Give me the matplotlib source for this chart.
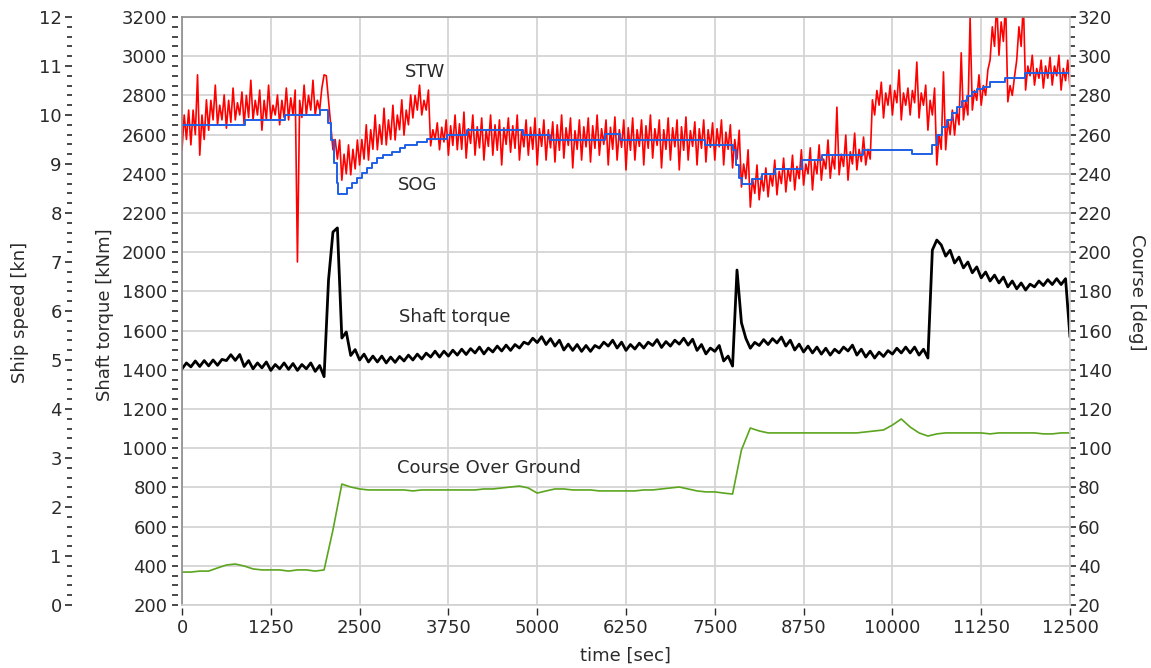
import numpy as np
import matplotlib
matplotlib.use("Agg")
import matplotlib.pyplot as plt
from matplotlib.ticker import MultipleLocator

plt.rcParams['font.family'] = ['DejaVu Sans']

# ---------------- data ----------------
t_bins = np.arange(0, 12501, 125)          # sample bins [sec]

# speed through water [kn], four samples per bin:
# low extreme, upper core, lower core, high extreme
stw_a = [9.29, 9.39, 9.18, 9.69, 9.80, 9.73, 9.90, 9.80, 9.90, 9.69,
         9.90, 9.80, 9.90, 7.00, 10.00, 10.00, 10.82, 9.29, 8.67, 8.78,
         8.98, 9.08, 9.29, 9.39, 9.49, 9.59, 9.94, 10.00, 9.37, 9.29,
         9.18, 9.29, 9.12, 9.18, 9.08, 9.18, 8.98, 9.24, 9.08, 9.18,
         8.98, 9.08, 9.04, 9.12, 8.92, 9.08, 9.04, 9.18, 8.98, 9.08,
         8.88, 9.08, 8.98, 9.12, 8.92, 9.08, 8.88, 9.08, 8.98, 9.04,
         9.08, 8.98, 8.92, 8.53, 8.12, 8.27, 8.33, 8.37, 8.43, 8.47,
         8.57, 8.47, 8.67, 8.71, 8.78, 8.67, 8.88, 8.98, 10.00, 9.94,
         10.00, 9.90, 10.00, 9.94, 9.69, 8.98, 9.29, 9.59, 9.90, 10.10,
         10.20, 11.12, 11.22, 10.27, 11.12, 10.51, 10.61, 10.55, 10.61, 10.51,
         10.55]
stw_c1 = [10.0, 10.1, 10.0, 10.3, 10.2, 10.3, 10.25, 10.4, 10.3, 10.3,
          10.2, 10.3, 10.35, 10.3, 10.4, 10.3, 10.8, 9.5, 9.2, 9.3,
          9.5, 9.7, 9.8, 9.9, 10.0, 10.1, 10.4, 10.3, 9.7, 9.75,
          9.78, 9.82, 9.72, 9.76, 9.70, 9.80, 9.74, 9.78, 9.68, 9.75,
          9.72, 9.70, 9.80, 9.74, 9.68, 9.76, 9.78, 9.72, 9.75, 9.70,
          9.74, 9.70, 9.78, 9.72, 9.70, 9.74, 9.76, 9.68, 9.72, 9.70,
          9.72, 9.65, 9.5, 9.0, 8.7, 8.75, 8.8, 8.85, 8.9, 8.95,
          9.0, 9.05, 9.1, 9.15, 9.2, 9.25, 9.3, 9.3, 10.5, 10.45,
          10.5, 10.45, 10.5, 10.45, 10.3, 9.6, 9.9, 10.1, 10.3, 10.5,
          10.6, 11.8, 11.9, 10.6, 11.8, 11.0, 10.95, 11.0, 11.0, 10.95,
          10.95]
stw_c2 = [9.5, 9.6, 9.5, 9.9, 9.9, 9.85, 10.0, 9.95, 10.0, 9.9,
          10.0, 9.95, 10.0, 9.95, 10.1, 10.1, 10.3, 9.1, 8.8, 8.9,
          9.1, 9.3, 9.4, 9.5, 9.7, 9.8, 10.1, 10.1, 9.5, 9.45,
          9.38, 9.30, 9.42, 9.33, 9.36, 9.28, 9.40, 9.32, 9.35, 9.30,
          9.36, 9.33, 9.28, 9.38, 9.30, 9.35, 9.32, 9.40, 9.30, 9.34,
          9.28, 9.36, 9.32, 9.38, 9.30, 9.35, 9.28, 9.36, 9.32, 9.34,
          9.35, 9.30, 9.1, 8.7, 8.4, 8.45, 8.55, 8.6, 8.65, 8.7,
          8.8, 8.8, 8.9, 8.9, 8.95, 9.0, 9.05, 9.1, 10.2, 10.2,
          10.25, 10.2, 10.25, 10.2, 10.0, 9.3, 9.6, 9.8, 10.0, 10.3,
          10.4, 11.4, 11.5, 10.4, 11.4, 10.8, 10.75, 10.75, 10.8, 10.7,
          10.7]
stw_b = [10.10, 10.82, 10.31, 10.61, 10.41, 10.55, 10.47, 10.71, 10.51, 10.61,
         10.41, 10.55, 10.51, 10.61, 10.71, 10.55, 9.80, 9.49, 9.39, 9.49,
         9.80, 10.00, 10.14, 10.20, 10.31, 10.41, 10.61, 10.51, 9.84, 9.90,
         10.00, 10.06, 10.00, 9.94, 10.00, 9.90, 9.94, 10.00, 9.90, 9.94,
         9.90, 9.86, 10.00, 9.94, 9.90, 9.94, 10.00, 9.90, 9.96, 9.90,
         9.94, 9.90, 10.00, 9.90, 9.94, 9.90, 9.96, 9.86, 9.90, 9.84,
         9.90, 9.80, 9.69, 9.29, 8.98, 8.92, 9.08, 9.12, 9.18, 9.29,
         9.33, 9.39, 9.49, 10.16, 9.59, 9.63, 9.55, 10.31, 10.67, 10.61,
         10.92, 10.55, 11.08, 10.61, 10.55, 10.88, 10.10, 11.27, 11.98, 10.82,
         10.92, 12.30, 12.30, 10.78, 12.30, 11.22, 11.12, 11.18, 11.22, 11.12,
         11.08]

# speed over ground [kn] (stepped signal)
sog_time = [0, 886, 1449, 1940, 2054, 2096, 2139, 2181, 2195, 2322, 2392, 2462,
            2533, 2603, 2673, 2744, 2828, 2955, 3067, 3138, 3307, 3447, 3729,
            4011, 4799, 5178, 5952, 6163, 7359, 7753, 7795, 7837, 7880, 8020,
            8161, 8344, 8723, 9005, 9582, 10271, 10552, 10623, 10693, 10764,
            10834, 10904, 10975, 11045, 11115, 11186, 11270, 11369, 11580,
            11861, 12500]
sog_speed = [9.80, 9.90, 10.00, 10.10, 9.84, 9.49, 9.02, 8.61, 8.39, 8.51, 8.61,
             8.71, 8.82, 8.92, 9.02, 9.12, 9.18, 9.24, 9.33, 9.39, 9.45, 9.51,
             9.59, 9.69, 9.59, 9.49, 9.61, 9.49, 9.39, 9.29, 8.98, 8.71, 8.59,
             8.69, 8.80, 8.90, 9.08, 9.18, 9.29, 9.20, 9.39, 9.59, 9.76, 9.90,
             10.04, 10.16, 10.29, 10.39, 10.47, 10.53, 10.57, 10.67, 10.76,
             10.86, 10.86]

# shaft torque [kNm], two samples per bin
torque_a = [1405, 1415, 1417, 1420, 1423, 1447, 1448, 1417, 1405, 1410,
            1397, 1405, 1402, 1397, 1405, 1392, 1365, 2103, 1562, 1473,
            1450, 1440, 1440, 1435, 1438, 1445, 1450, 1455, 1465, 1465,
            1470, 1475, 1478, 1486, 1481, 1491, 1496, 1499, 1511, 1531,
            1539, 1529, 1521, 1501, 1499, 1494, 1494, 1511, 1521, 1511,
            1499, 1506, 1511, 1524, 1514, 1521, 1531, 1526, 1499, 1481,
            1494, 1445, 1419, 1640, 1510, 1524, 1529, 1537, 1521, 1501,
            1491, 1486, 1480, 1475, 1486, 1496, 1475, 1465, 1460, 1468,
            1480, 1486, 1486, 1475, 1460, 2062, 1980, 1945, 1920, 1895,
            1869, 1853, 1843, 1823, 1813, 1807, 1823, 1830, 1835, 1835,
            1567]
torque_b = [1435, 1445, 1447, 1450, 1453, 1477, 1478, 1447, 1435, 1440,
            1427, 1435, 1432, 1427, 1435, 1422, 1858, 2124, 1593, 1503,
            1480, 1470, 1470, 1465, 1468, 1475, 1480, 1485, 1495, 1495,
            1500, 1505, 1508, 1516, 1511, 1521, 1526, 1529, 1541, 1561,
            1569, 1559, 1551, 1531, 1529, 1524, 1524, 1541, 1551, 1541,
            1529, 1536, 1541, 1554, 1544, 1551, 1561, 1556, 1529, 1511,
            1524, 1470, 1909, 1560, 1540, 1554, 1559, 1567, 1551, 1531,
            1521, 1516, 1510, 1505, 1516, 1526, 1505, 1495, 1490, 1498,
            1510, 1516, 1516, 1505, 2011, 2037, 2010, 1975, 1950, 1925,
            1899, 1883, 1873, 1853, 1843, 1837, 1853, 1860, 1865, 1865,
            1567]

# course over ground [deg]
course = [36.8, 36.8, 37.3, 37.3, 38.9, 40.4, 40.9, 39.9, 38.4, 37.9,
          37.9, 37.9, 37.3, 37.9, 37.9, 37.3, 37.9, 58.3, 81.7, 80.2,
          79.2, 78.7, 78.7, 78.7, 78.7, 78.7, 78.2, 78.7, 78.7, 78.7,
          78.7, 78.7, 78.7, 78.7, 79.2, 79.2, 79.7, 80.2, 80.7, 79.7,
          77.1, 78.2, 79.2, 79.2, 78.7, 78.7, 78.7, 78.2, 78.2, 78.2,
          78.2, 78.2, 78.7, 78.7, 79.2, 79.7, 80.2, 79.2, 78.2, 77.7,
          77.7, 77.1, 76.6, 99.1, 110.3, 108.8, 107.8, 107.8, 107.8, 107.8,
          107.8, 107.8, 107.8, 107.8, 107.8, 107.8, 107.8, 108.3, 108.8, 109.3,
          111.8, 114.9, 110.8, 107.8, 106.2, 107.3, 107.8, 107.8, 107.8, 107.8,
          107.8, 107.3, 107.8, 107.8, 107.8, 107.8, 107.8, 107.3, 107.3, 107.8,
          107.8]

time_ticks = [0, 1250, 2500, 3750, 5000, 6250, 7500, 8750, 10000, 11250, 12500]
time_labels = [str(v) for v in time_ticks]


def samples_per_bin(*series):
    n = len(series)
    step = 125.0 / n
    t = np.empty(n * len(t_bins))
    v = np.empty(n * len(t_bins))
    for k, s in enumerate(series):
        t[k::n] = t_bins + k * step
        v[k::n] = s
    return t, v


# ---------------- figure ----------------
W, H = 1151, 668
fig = plt.figure(figsize=(W / 100, H / 100), dpi=100)
L, R, T, B = 182, 1070, 17, 605
ax = fig.add_axes([L / W, 1 - B / H, (R - L) / W, (B - T) / H])
ax_speed = ax.twinx()
ax_course = ax.twinx()

tick_col = '#2a2a2a'
grid_col = '#d4d4d4'
fs = 13

# --- torque (main) axes
ax.set_xlim(0, 12500)
ax.set_ylim(200, 3200)
ax.set_xticks(time_ticks)
ax.set_xticklabels(time_labels)
ax.yaxis.set_major_locator(MultipleLocator(200))
ax.yaxis.set_minor_locator(MultipleLocator(50))
ax.grid(True, which='major', color=grid_col, lw=1.3)
ax.set_axisbelow(True)
for s in ['top', 'right']:
    ax.spines[s].set_visible(False)
ax.spines['left'].set_position(('outward', 3.0))
ax.spines['left'].set_edgecolor('none')
ax.spines['bottom'].set_position(('outward', 2.2))
ax.spines['bottom'].set_edgecolor('none')
ax.tick_params(axis='y', which='major', direction='out', length=4.4, width=1.2,
               color=tick_col, pad=3.2, labelsize=fs, labelcolor=tick_col)
ax.tick_params(axis='y', which='minor', direction='out', length=4.0, width=1.2,
               color=tick_col)
ax.tick_params(axis='x', which='major', direction='out', length=5.0, width=1.0,
               color=tick_col, pad=3.0, labelsize=fs, labelcolor=tick_col)
ax.set_ylabel('Shaft torque [kNm]', fontsize=fs, color=tick_col)
ax.yaxis.set_label_coords((114 - L) / (R - L), (B - 315) / (B - T))
ax.set_xlabel('time [sec]', fontsize=fs, color=tick_col)
ax.xaxis.set_label_coords((625 - L) / (R - L), (B - 647) / (B - T))

tq_t, tq_v = samples_per_bin(torque_a, torque_b)
ax.plot(tq_t, tq_v, color='black', lw=2.0)

ax.text(3841, 1669, 'Shaft torque', fontsize=fs, color=tick_col,
        ha='center', va='center')
ax.text(4320, 899, 'Course Over Ground', fontsize=fs, color=tick_col,
        ha='center', va='center')
ax.text(3419, 2919, 'STW', fontsize=fs, color=tick_col, ha='center', va='center')
ax.text(3320, 2343, 'SOG', fontsize=fs, color=tick_col, ha='center', va='center')

# --- ship speed axes
ax_speed.set_ylim(0, 12)
ax_speed.yaxis.tick_left()
ax_speed.yaxis.set_label_position('left')
ax_speed.yaxis.set_major_locator(MultipleLocator(1))
ax_speed.yaxis.set_minor_locator(MultipleLocator(0.2))
for s in ['top', 'right', 'bottom']:
    ax_speed.spines[s].set_visible(False)
ax_speed.spines['left'].set_position(('outward', 79.0))
ax_speed.spines['left'].set_edgecolor('none')
ax_speed.tick_params(axis='y', which='major', direction='out', length=5.0, width=1.2,
                     color=tick_col, pad=2.5, labelsize=fs, labelcolor=tick_col)
ax_speed.tick_params(axis='y', which='minor', direction='out', length=3.5, width=1.2,
                     color=tick_col)
ax_speed.set_ylabel('Ship speed [kn]', fontsize=fs, color=tick_col)
ax_speed.yaxis.set_label_coords((29 - L) / (R - L), (B - 312) / (B - T))

stw_t, stw_v = samples_per_bin(stw_a, stw_c1, stw_c2, stw_b)
ax_speed.plot(stw_t, stw_v, color='#ff0000', lw=1.2)
ax_speed.plot(sog_time, sog_speed, color='#1f5fe6', lw=1.4, drawstyle='steps-post')

# --- course axes
ax_course.set_ylim(20, 320)
ax_course.yaxis.set_major_locator(MultipleLocator(20))
ax_course.yaxis.set_minor_locator(MultipleLocator(5))
ax_course.spines['right'].set_edgecolor('#d0d0d0')
ax_course.spines['bottom'].set_edgecolor('#d0d0d0')
ax_course.spines['left'].set_edgecolor('#8c8c8c')
ax_course.spines['top'].set_edgecolor('#8c8c8c')
for s in ax_course.spines.values():
    s.set_linewidth(1.2)
ax_course.tick_params(axis='y', which='major', direction='out', length=4.0, width=1.2,
                      color=tick_col, pad=1.5, labelsize=fs, labelcolor=tick_col)
ax_course.tick_params(axis='y', which='minor', direction='out', length=3.5, width=1.2,
                      color=tick_col)
ax_course.set_ylabel('Course [deg]', fontsize=fs, color=tick_col, rotation=270)
ax_course.yaxis.set_label_coords((1146 - L) / (R - L), (B - 292) / (B - T))
ax_course.plot(t_bins, course, color='#5ca51e', lw=1.2)

fig.savefig('out.png', dpi=100)
